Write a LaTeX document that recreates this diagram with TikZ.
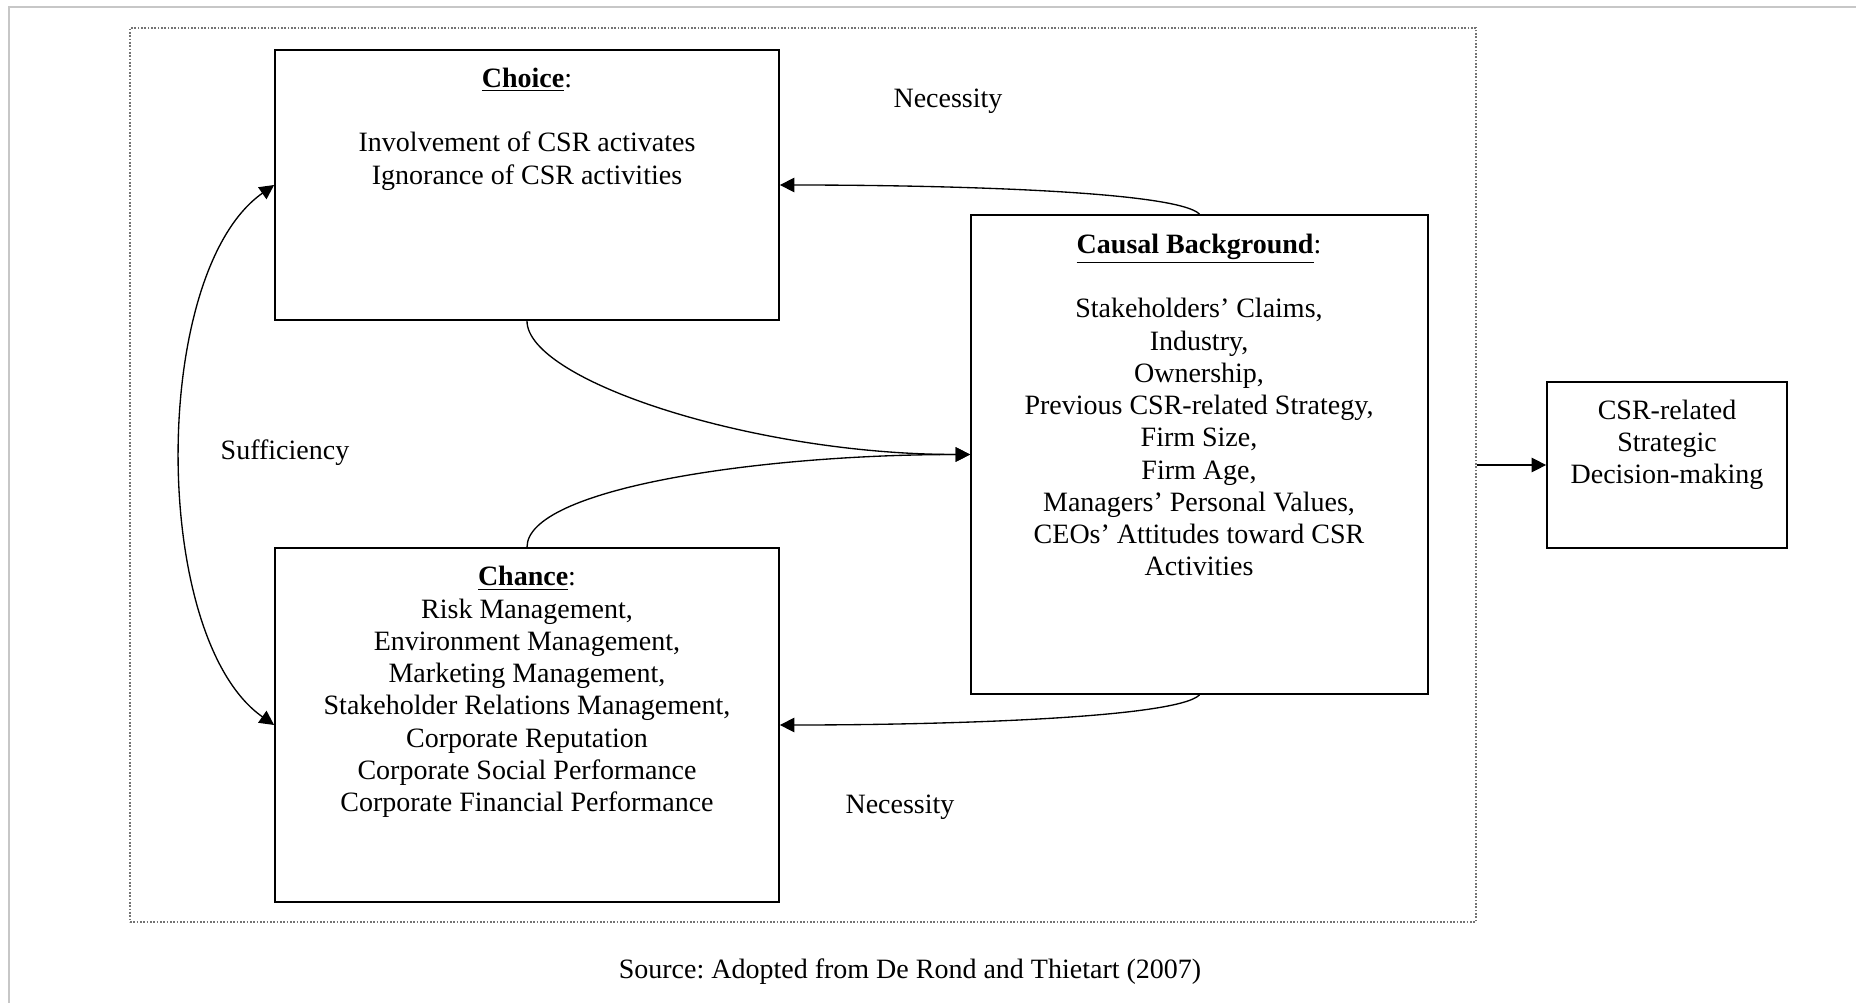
\documentclass[tikz,border=0pt]{standalone}
\usepackage{fontspec}
\setmainfont{Liberation Serif}
\usetikzlibrary{arrows.meta}
\frenchspacing

\tikzset{
  box/.style={draw, line width=0.8pt, rectangle, inner sep=0pt},
  conn/.style={line width=0.6pt},
  txt/.style={align=center, inner sep=0pt, font=\fontsize{12.6}{14.5}\selectfont},
}

\begin{document}
\begin{tikzpicture}[x=0.45pt, y=-0.45pt, >={Triangle[length=6.5pt,width=6.5pt]}]
\newcommand{\px}{0.45pt}; % one pixel of the reference

\useasboundingbox (0,0) rectangle (1856,1003);
\draw[black!22, line width=1pt] (1856,7) -- (9,7) -- (9,1003);

% dotted frame round the three causes
\node[draw=black!55, line width=0.8pt, dash pattern=on 0.7pt off 0.8pt,
      minimum width=1346*\px, minimum height=894*\px] (frame) at (803,475) {};

% boxes
\node[box, minimum width=504*\px, minimum height=270*\px] (choice) at (527,185) {};
\node[box, minimum width=457*\px, minimum height=479*\px] (causal) at (1199.5,454.5) {};
\node[box, minimum width=504*\px, minimum height=354*\px] (chance) at (527,725) {};
\node[box, minimum width=240*\px, minimum height=166*\px] (csr) at (1667,465) {};
%

% box texts
\node[txt] (choicetxt) at (527,129) {\underline{\textbf{Choice}}:\\[14.5pt]
  Involvement of CSR activates\\ Ignorance of CSR activities};
\node[txt] (causaltxt) at (1199,405) {\underline{\textbf{Causal Background}}:\\[14.5pt]
  Stakeholders’ Claims,\\ Industry,\\ Ownership,\\ Previous CSR-related Strategy,\\
  Firm Size,\\ Firm Age,\\ Managers’ Personal Values,\\ CEOs’ Attitudes toward CSR\\ Activities};
\node[txt] (chancetxt) at (527,692) {\underline{\textbf{Chance}}:\\ Risk Management,\\
  Environment Management,\\ Marketing Management,\\ Stakeholder Relations Management,\\
  Corporate Reputation\\ Corporate Social Performance\\ Corporate Financial Performance};
\node[txt] (csrtxt) at (1667,445) {CSR-related\\ Strategic\\ Decision-making};

% labels
\node[txt] (nectop) at (948,101) {Necessity};
\node[txt] (necbot) at (900,807) {Necessity};
\node[txt] (suff) at (285,453) {Sufficiency};
\node[txt] (source) at (910,972) {Source: Adopted from De Rond and Thietart (2007)};

% connectors
\draw[conn, ->] (causal.north) to[out=135, in=0, out looseness=0.2] (choice.east);
\draw[conn, ->] (choice.south) to[out=-90, in=180, out looseness=0.33, in looseness=1.2] (causal.west);
\draw[conn, ->] (chance.north) to[out=90, in=180, out looseness=0.33, in looseness=1.2] (causal.west);
\draw[conn, ->] (causal.south) to[out=-135, in=0, out looseness=0.2] (chance.east);
\draw[conn, <->] (choice.west) to[out=215, in=145, looseness=0.72] (chance.west);
\draw[conn, ->] (csr.west -| frame.east) -- (csr.west);
\end{tikzpicture}
\end{document}
